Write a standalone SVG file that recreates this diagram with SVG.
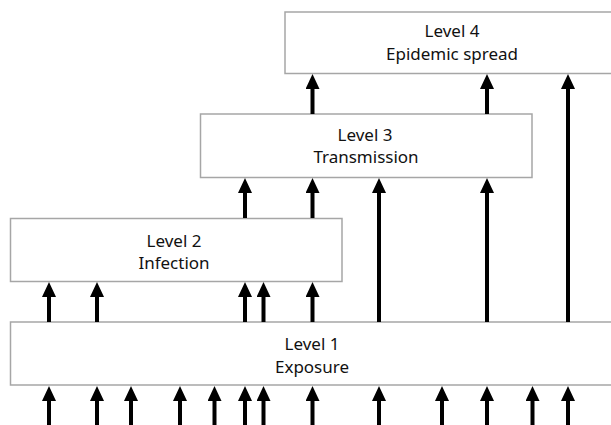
<svg xmlns="http://www.w3.org/2000/svg" width="611" height="425" viewBox="0 0 611 425">
<style>
.box{fill:#fff;stroke:#a6a6a6;stroke-width:1.5}
.lbl{font-family:"Noto Sans","Open Sans",sans-serif;font-size:17px;fill:#111;text-anchor:middle}
.arr{stroke:#000;stroke-width:4;fill:none;marker-end:url(#ah)}
</style>
<defs>
<marker id="ah" markerUnits="userSpaceOnUse" markerWidth="15" markerHeight="14" viewBox="0 0 15 14" refX="3" refY="7" orient="auto">
<path d="M0,0 L15,7 L0,14 z" fill="#000"/>
</marker>
</defs>
<rect width="611" height="425" fill="#fff"/>
<g id="level4">
<rect class="box" x="285" y="12" width="334" height="61.5"/>
<text class="lbl" x="452" y="37">Level 4</text>
<text class="lbl" x="452" y="60">Epidemic spread</text>
</g>
<g id="level3">
<rect class="box" x="200.5" y="114" width="331.5" height="63.5"/>
<text class="lbl" x="365" y="141">Level 3</text>
<text class="lbl" x="366" y="163">Transmission</text>
</g>
<g id="level2">
<rect class="box" x="10.5" y="218.5" width="331.5" height="63"/>
<text class="lbl" x="174" y="246.5">Level 2</text>
<text class="lbl" x="174" y="269">Infection</text>
</g>
<g id="level1">
<rect class="box" x="10.5" y="322" width="608" height="63"/>
<text class="lbl" x="312" y="350">Level 1</text>
<text class="lbl" x="312" y="372.5">Exposure</text>
</g>
<g id="connectors">
<line class="arr" x1="49" y1="425" x2="49" y2="398"/>
<line class="arr" x1="97" y1="425" x2="97" y2="398"/>
<line class="arr" x1="131" y1="425" x2="131" y2="398"/>
<line class="arr" x1="180" y1="425" x2="180" y2="398"/>
<line class="arr" x1="214.5" y1="425" x2="214.5" y2="398"/>
<line class="arr" x1="245" y1="425" x2="245" y2="398"/>
<line class="arr" x1="263.5" y1="425" x2="263.5" y2="398"/>
<line class="arr" x1="312.5" y1="425" x2="312.5" y2="398"/>
<line class="arr" x1="379" y1="425" x2="379" y2="398"/>
<line class="arr" x1="442" y1="425" x2="442" y2="398"/>
<line class="arr" x1="487" y1="425" x2="487" y2="398"/>
<line class="arr" x1="532.5" y1="425" x2="532.5" y2="398"/>
<line class="arr" x1="568" y1="425" x2="568" y2="398"/>
<line class="arr" x1="49" y1="322" x2="49" y2="294"/>
<line class="arr" x1="97" y1="322" x2="97" y2="294"/>
<line class="arr" x1="245" y1="322" x2="245" y2="294"/>
<line class="arr" x1="263.5" y1="322" x2="263.5" y2="294"/>
<line class="arr" x1="312.5" y1="322" x2="312.5" y2="294"/>
<line class="arr" x1="379" y1="322" x2="379" y2="190"/>
<line class="arr" x1="487" y1="322" x2="487" y2="190"/>
<line class="arr" x1="568" y1="322" x2="568" y2="86"/>
<line class="arr" x1="245" y1="218" x2="245" y2="190"/>
<line class="arr" x1="312.5" y1="218" x2="312.5" y2="190"/>
<line class="arr" x1="312.5" y1="114" x2="312.5" y2="86"/>
<line class="arr" x1="487" y1="114" x2="487" y2="86"/>
</g>
</svg>
